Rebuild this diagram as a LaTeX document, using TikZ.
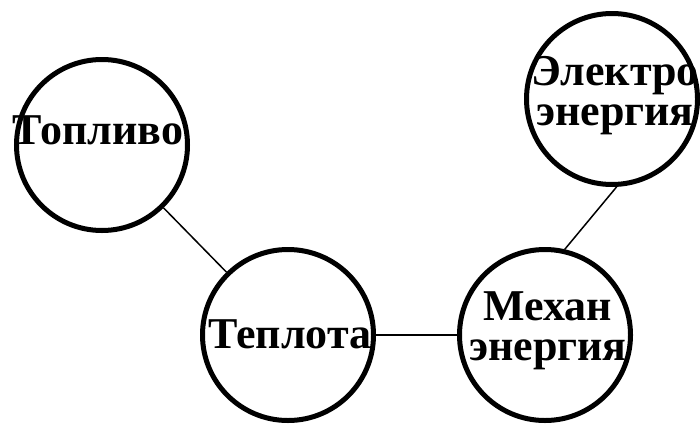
\documentclass[tikz,border=0pt]{standalone}
\usepackage{fontspec}
\setmainfont{Liberation Serif}
\begin{document}
\begin{tikzpicture}[x=1pt,y=-1pt,
  ring/.style={circle,draw,line width=5pt,minimum size=171pt,inner sep=0pt},
  lbl/.style={font=\fontsize{44}{40}\selectfont\bfseries,align=center,inner sep=0pt},
  link/.style={line width=1.5pt}]
\useasboundingbox (0,0) rectangle (700,426);
\node[ring] (fuel) at (102,145) {};
\node[ring] (heat) at (288,335) {};
\node[ring] (mech) at (545,335) {};
\node[ring] (elec) at (612,99) {};
\node[lbl,anchor=base] (tfuel) at (98,144) {Топливо};
\node[lbl,anchor=base] (theat) at (290,348) {Теплота};
\node[lbl] (tmech) at (548,331) {Механ\\энергия};
\node[lbl] (telec) at (615,96) {Электро\\энергия};
\draw[link] (fuel) -- (heat);
\draw[link] (heat) -- (mech);
\draw[link] (mech.77) -- (elec.-87);
\end{tikzpicture}
\end{document}
